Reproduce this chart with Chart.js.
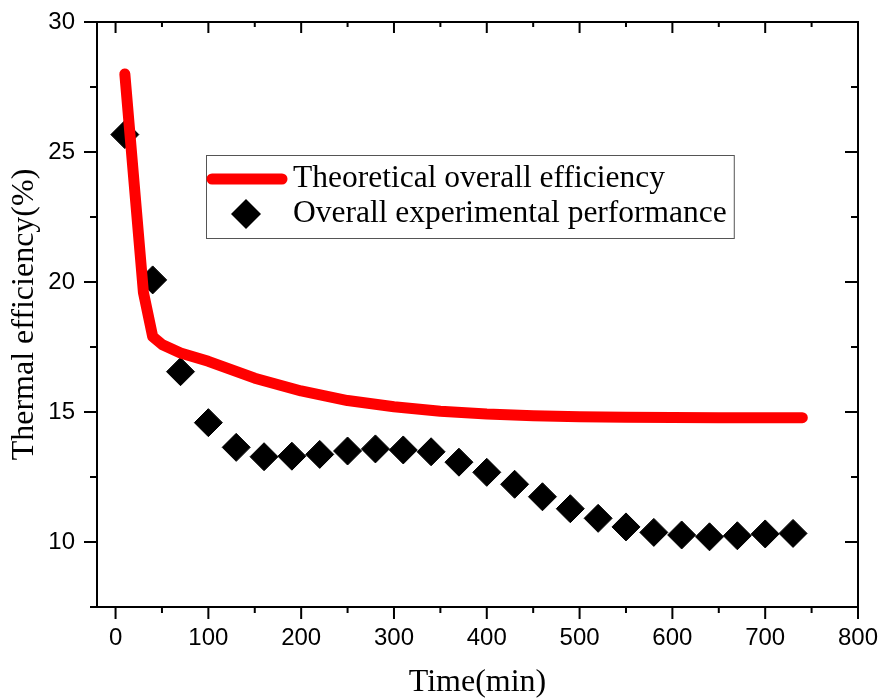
<!DOCTYPE html>
<html lang="en">

<head>
  <meta charset="UTF-8" />
  <title>thermal efficiency</title>
  <script src="https://cdn.jsdelivr.net/npm/chart.js@4.4.0/dist/chart.umd.min.js"></script>
  <style>
    body {
      margin: 0;
      background: #fff;
    }
  </style>
</head>

<body>
  <canvas id="myChart" width="892" height="700"></canvas>

  <script>
    // theoretical curve (red line)
    const timeTheory = [10, 30, 40, 50, 70, 100, 150, 200, 250, 300, 350, 400, 450, 500, 550, 600, 650, 700, 740];
    const effTheory = [28.0, 19.6, 17.9, 17.6, 17.27, 16.95, 16.3, 15.81, 15.44, 15.2, 15.03, 14.92, 14.86, 14.82, 14.8, 14.79, 14.78, 14.78, 14.78];

    // experimental points (black diamonds)
    const timeExp = [10, 40, 70, 100, 130, 160, 190, 220, 250, 280, 310, 340, 370, 400, 430, 460, 490, 520, 550, 580, 610, 640, 670, 700, 730];
    const effExp = [25.67, 20.08, 16.55, 14.59, 13.64, 13.28, 13.3, 13.37, 13.5, 13.58, 13.54, 13.47, 13.07, 12.68, 12.22, 11.74, 11.28, 10.91, 10.58, 10.37, 10.27, 10.2, 10.24, 10.31, 10.33];

    const xTicks = [0, 100, 200, 300, 400, 500, 600, 700, 800];
    const xMinor = [50, 150, 250, 350, 450, 550, 650, 750];
    const yTicks = [10, 15, 20, 25, 30];
    const yMinor = [7.5, 12.5, 17.5, 22.5, 27.5];

    const labelTheory = 'Theoretical overall efficiency';
    const labelExp = 'Overall experimental performance';

    const serif = '"Liberation Serif", "Times New Roman", serif';
    const sans = '"Liberation Sans", Arial, sans-serif';

    // box around plot + ticks on all four sides
    const frameTicks = {
      id: 'frameTicks',
      afterDraw(chart) {
        const { ctx, chartArea: a, scales: { x, y } } = chart;
        ctx.save();
        ctx.strokeStyle = '#000';
        ctx.lineWidth = 2;
        ctx.strokeRect(a.left, a.top, a.right - a.left, a.bottom - a.top);
        ctx.beginPath();
        const xt = (list, len) => list.forEach(v => {
          const px = x.getPixelForValue(v);
          ctx.moveTo(px, a.bottom); ctx.lineTo(px, a.bottom + len);
          ctx.moveTo(px, a.top); ctx.lineTo(px, a.top + len - 1);
        });
        const yt = (list, len) => list.forEach(v => {
          const py = y.getPixelForValue(v);
          ctx.moveTo(a.left, py); ctx.lineTo(a.left - len, py);
          ctx.moveTo(a.right, py); ctx.lineTo(a.right - len, py);
        });
        xt(xTicks, 12);
        xt(xMinor, 6);
        yt(yTicks, 13);
        yt(yMinor, 7);
        ctx.stroke();
        ctx.restore();
      }
    };

    // framed legend sitting inside the plot
    const boxLegend = {
      id: 'boxLegend',
      afterDraw(chart) {
        const { ctx, chartArea: a } = chart;
        const ds = chart.data.datasets;
        const left = a.left + 109;
        const top = a.top + 133;
        const textX = left + 87;
        ctx.save();
        ctx.font = '31.5px ' + serif;
        const w = Math.max(...ds.map(d => ctx.measureText(d.label).width));
        ctx.strokeStyle = '#555';
        ctx.lineWidth = 1;
        ctx.strokeRect(left + 0.5, top + 0.5, textX + w + 7 - left, 83);

        // row 1: line
        const r1 = top + 24;
        ctx.strokeStyle = ds[0].borderColor;
        ctx.lineWidth = 11;
        ctx.lineCap = 'round';
        ctx.beginPath();
        ctx.moveTo(left + 6, r1);
        ctx.lineTo(left + 76, r1);
        ctx.stroke();

        // row 2: diamond
        const r2 = top + 59;
        const cx = left + 40;
        const r = 15;
        ctx.fillStyle = ds[1].backgroundColor;
        ctx.beginPath();
        ctx.moveTo(cx, r2 - r);
        ctx.lineTo(cx + r, r2);
        ctx.lineTo(cx, r2 + r);
        ctx.lineTo(cx - r, r2);
        ctx.closePath();
        ctx.fill();

        ctx.fillStyle = '#000';
        ctx.textBaseline = 'middle';
        ctx.textAlign = 'left';
        ctx.fillText(ds[0].label, textX, r1);
        ctx.fillText(ds[1].label, textX, r2);
        ctx.restore();
      }
    };

    window.addEventListener('load', setup);

    function setup() {
      const ctx = document.getElementById('myChart').getContext('2d');
      const myChart = new Chart(ctx, {
        type: 'line',
        data: {
          datasets: [
            {
              label: labelTheory,
              data: timeTheory.map((t, i) => ({ x: t, y: effTheory[i] })),
              borderColor: '#ff0000',
              backgroundColor: '#ff0000',
              borderWidth: 11,
              borderCapStyle: 'round',
              borderJoinStyle: 'round',
              pointRadius: 0,
              tension: 0,
              fill: false
            },
            {
              label: labelExp,
              data: timeExp.map((t, i) => ({ x: t, y: effExp[i] })),
              showLine: false,
              pointStyle: 'rectRot',
              pointRadius: 14,
              pointBorderWidth: 1,
              borderColor: '#000',
              backgroundColor: '#000'
            }
          ]
        },
        options: {
          responsive: false,
          animation: false,
          layout: { padding: { top: 22, right: 34, left: 0, bottom: 0 } },
          plugins: {
            legend: { display: false },
            tooltip: { enabled: false }
          },
          scales: {
            x: {
              type: 'linear',
              min: -20,
              max: 800,
              afterBuildTicks: s => { s.ticks = xTicks.map(v => ({ value: v })); },
              afterFit: s => { s.height = 93; s.paddingLeft = 0; s.paddingRight = 0; },
              grid: { display: false, drawTicks: false },
              border: { display: false },
              ticks: { color: '#000', padding: 17, maxRotation: 0, font: { family: sans, size: 24 } },
              title: {
                display: true,
                text: 'Time(min)',
                color: '#000',
                padding: { top: 0, bottom: 0 },
                font: { family: serif, size: 32, lineHeight: 1.1 }
              }
            },
            y: {
              min: 7.5,
              max: 30,
              afterBuildTicks: s => { s.ticks = yTicks.map(v => ({ value: v })); },
              afterFit: s => { s.width = 97; s.paddingTop = 0; s.paddingBottom = 0; },
              grid: { display: false, drawTicks: false },
              border: { display: false },
              ticks: { color: '#000', padding: 22, font: { family: sans, size: 24 } },
              title: {
                display: true,
                text: 'Thermal efficiency(%)',
                color: '#000',
                padding: { top: 7, bottom: 0 },
                font: { family: serif, size: 32, lineHeight: 1.1 }
              }
            }
          }
        },
        plugins: [frameTicks, boxLegend]
      });
    }
  </script>
</body>

</html>
